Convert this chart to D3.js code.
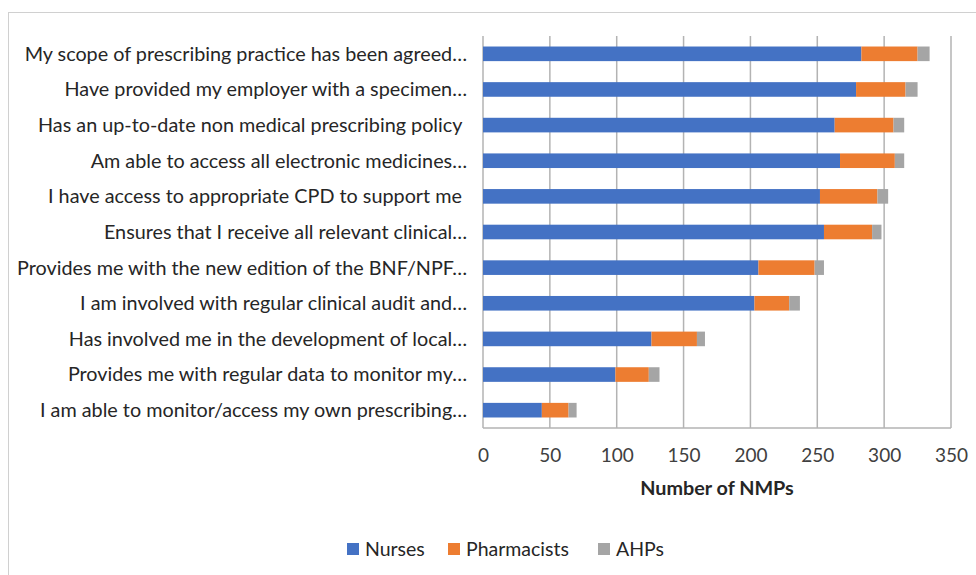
<!DOCTYPE html>
<html>
<head>
<meta charset="utf-8">
<script src="https://cdn.jsdelivr.net/npm/d3@7"></script>
<style>
  body { margin: 0; background: #fff; }
  svg text { font-family: Lato, "Open Sans", sans-serif; fill: #262626; }
</style>
</head>
<body>
<div id="chart"></div>
<script>
// statements, top to bottom as drawn (two of them end in a space in the source)
var categories = [
  "My scope of prescribing practice has been agreed…",
  "Have provided my employer with a specimen…",
  "Has an up-to-date non medical prescribing policy ",
  "Am able to access all electronic medicines…",
  "I have access to appropriate CPD to support me ",
  "Ensures that I receive all relevant clinical…",
  "Provides me with the new edition of the BNF/NPF…",
  "I am involved with regular clinical audit and…",
  "Has involved me in the development of local…",
  "Provides me with regular data to monitor my…",
  "I am able to monitor/access my own prescribing…"
];
var nurses      = [283, 279, 263, 267, 252, 255, 206, 203, 126, 99, 44];
var pharmacists = [42, 37, 44, 41, 43, 36, 42, 26, 34, 25, 20];
var ahps        = [9, 9, 8, 7, 8, 7, 7, 8, 6, 8, 6];
var seriesNames = ["Nurses", "Pharmacists", "AHPs"];
var xTicks = [0, 50, 100, 150, 200, 250, 300, 350];

var width = 976, height = 575;
var margin = {top: 36, right: 25, bottom: 147, left: 483};
var colors = ["#4472C4", "#ED7D31", "#A5A5A5"];

var svg = d3.select("#chart").append("svg")
  .attr("width", width)
  .attr("height", height);

// outer chart frame
svg.append("rect")
  .attr("x", 8.5).attr("y", 12.5)
  .attr("width", 980).attr("height", 580)
  .attr("fill", "none")
  .attr("stroke", "#d0d0d0");

var rows = categories.map(function(c, i) {
  return {name: c, Nurses: nurses[i], Pharmacists: pharmacists[i], AHPs: ahps[i]};
});
var stacked = d3.stack().keys(seriesNames)(rows);

var x = d3.scaleLinear()
  .domain([0, 350])
  .range([margin.left, width - margin.right]);

var y = d3.scaleBand()
  .domain(categories)
  .range([margin.top, height - margin.bottom])
  .paddingInner(0.59)
  .paddingOuter(0.295);

// vertical gridlines
svg.append("g")
  .selectAll("line")
  .data(xTicks)
  .enter().append("line")
  .attr("x1", d => x(d)).attr("x2", d => x(d))
  .attr("y1", margin.top).attr("y2", height - margin.bottom)
  .attr("stroke", "#b3b3b3")
  .attr("stroke-width", 1.5);

svg.append("line")
  .attr("x1", x(0)).attr("x2", x(350))
  .attr("y1", height - margin.bottom).attr("y2", height - margin.bottom)
  .attr("stroke", "#b3b3b3")
  .attr("stroke-width", 1.5);

// bars
svg.append("g")
  .selectAll("g")
  .data(stacked)
  .enter().append("g")
  .attr("fill", (d, i) => colors[i])
  .selectAll("rect")
  .data(d => d)
  .enter().append("rect")
  .attr("x", d => x(d[0]))
  .attr("width", d => x(d[1]) - x(d[0]))
  .attr("y", d => y(d.data.name))
  .attr("height", y.bandwidth());

// category labels
svg.append("g")
  .selectAll("text")
  .data(categories)
  .enter().append("text")
  .attr("x", margin.left - 16)
  .attr("y", d => y(d) + y.bandwidth() / 2)
  .attr("dy", "0.35em")
  .attr("text-anchor", "end")
  .style("white-space", "pre")
  .style("font-size", "19.8px")
  .text(d => d);

// x axis tick labels
var xAxis = d3.axisBottom(x).tickValues(xTicks).tickSize(0).tickPadding(0);
svg.append("g")
  .attr("transform", "translate(0," + (height - margin.bottom) + ")")
  .call(xAxis)
  .call(g => g.select(".domain").remove())
  .selectAll("text")
  .attr("y", 27)
  .attr("dy", "0.35em")
  .style("font-size", "19px")
  .style("fill", "#404040");

svg.append("text")
  .attr("x", (x(0) + x(350)) / 2)
  .attr("y", 488)
  .attr("dy", "0.35em")
  .attr("text-anchor", "middle")
  .style("font-size", "19.8px")
  .style("font-weight", "bold")
  .text("Number of NMPs");

// legend
var legendX = [347, 448, 598];
var legend = svg.append("g")
  .selectAll("g")
  .data(seriesNames)
  .enter().append("g")
  .attr("transform", (d, i) => "translate(" + legendX[i] + ",543)");

legend.append("rect")
  .attr("width", 12).attr("height", 12)
  .attr("fill", (d, i) => colors[i]);

legend.append("text")
  .attr("x", 18)
  .attr("y", 6)
  .attr("dy", "0.35em")
  .style("font-size", "19.5px")
  .text(d => d);
</script>
</body>
</html>
